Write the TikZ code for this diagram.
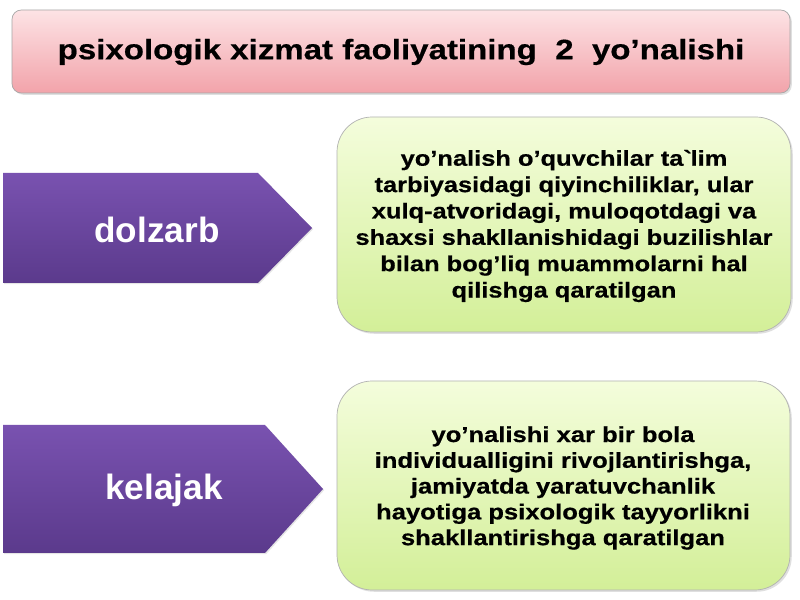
\documentclass[tikz,border=0pt]{standalone}
\usepackage{fontspec}
\setmainfont{Liberation Sans}
\newfontfamily\widefont{Liberation Sans}[FakeStretch=1.18, BoldFeatures={FakeBold=0.6}]
\usetikzlibrary{shadows}
\definecolor{pinktop}{HTML}{FDE3E5}
\definecolor{pinkbot}{HTML}{F2A3AA}
\definecolor{greentop}{HTML}{F4FDDC}
\definecolor{greenbot}{HTML}{D3EF98}
\definecolor{purpletop}{HTML}{7952B0}
\definecolor{purplebot}{HTML}{5B3A8C}
\tikzset{
	titlebox/.style={rounded corners=8pt, draw=black!35, line width=0.6pt, top color=pinktop, bottom color=pinkbot, drop shadow={shadow xshift=1.5pt, shadow yshift=-1.5pt, opacity=0.25}},
	greenbox/.style={rounded corners=30pt, draw=black!30, line width=0.6pt, top color=greentop, bottom color=greenbot, drop shadow={shadow xshift=1.5pt, shadow yshift=-1.5pt, opacity=0.25}},
	chevron/.style={top color=purpletop, bottom color=purplebot, draw=none, drop shadow={shadow xshift=1pt, shadow yshift=-1pt, opacity=0.2}},
	titletext/.style={font=\widefont\bfseries\fontsize{23.9}{28}\selectfont, text=black},
	labeltext/.style={font=\bfseries\fontsize{30}{36}\selectfont, text=white},
	boxtext/.style={font=\widefont\bfseries\fontsize{18.4}{22.5}\selectfont, align=center, text=black},
}
\begin{document}
\begin{tikzpicture}[x=0.03cm,y=-0.03cm]
		%%%%% START %%%%%
		
		\fill[white] (0, 0) rectangle (800, 600);
		
		\draw[titlebox] (12, 10) rectangle (790, 93);
		\node[titletext] (title) at (401, 52) {psixologik xizmat faoliyatining\ \ 2\ \ yo’nalishi};
		
		\draw[chevron] (3, 173) -- (258, 173) -- (312, 228) -- (258, 283) -- (3, 283) -- cycle;
		\node[labeltext] (dolzarb) at (157, 230) {dolzarb};
		
		\draw[greenbox] (337, 117) rectangle (791, 332);
		\node[boxtext] (dolzarbtext) at (564, 226) {yo’nalish o’quvchilar ta\textasciigrave lim\\tarbiyasidagi qiyinchiliklar, ular\\xulq-atvoridagi, muloqotdagi va\\shaxsi shakllanishidagi buzilishlar\\bilan bog’liq muammolarni hal\\qilishga qaratilgan};
		
		\draw[chevron] (3, 425) -- (265, 425) -- (323, 489) -- (265, 553) -- (3, 553) -- cycle;
		\node[labeltext] (kelajak) at (164, 490) {kelajak};
		
		\draw[greenbox] (337, 381) rectangle (790, 590);
		\node[boxtext, font=\widefont\bfseries\fontsize{18.5}{22}\selectfont] (kelajaktext) at (563, 488) {yo’nalishi xar bir bola\\individualligini rivojlantirishga,\\jamiyatda yaratuvchanlik\\hayotiga psixologik tayyorlikni\\shakllantirishga qaratilgan};
		
		%%%%% END %%%%%
	\end{tikzpicture}
\end{document}
